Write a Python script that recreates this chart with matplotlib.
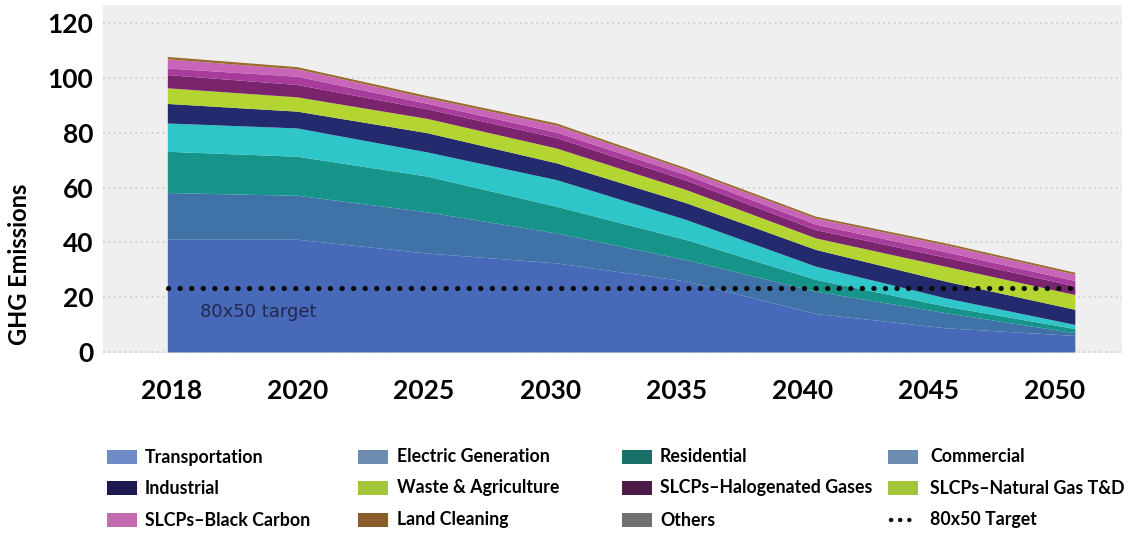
import matplotlib
matplotlib.use("Agg")
import matplotlib.pyplot as plt
from matplotlib.patches import Rectangle
from matplotlib.lines import Line2D
import numpy as np

plt.rcParams['font.family'] = ['Lato', 'DejaVu Sans']

years = ["2018", "2020", "2025", "2030", "2035", "2040", "2045", "2050"]

# layer thickness per year, bottom to top
transportation = [41.0, 41.0, 36.0, 32.4, 25.8, 14.0, 8.8, 6.0]
electric_gen   = [17.0, 16.0, 15.0, 10.9, 7.8, 8.1, 5.5, 1.0]
residential    = [15.0, 14.2, 13.0, 9.7, 7.3, 4.3, 2.4, 1.5]
commercial     = [10.3, 10.3, 8.8, 9.7, 7.3, 4.8, 3.0, 1.5]
industrial     = [7.1, 6.1, 7.0, 6.1, 6.1, 6.1, 6.1, 5.5]
waste_agri     = [5.7, 5.2, 5.2, 5.4, 4.8, 4.2, 5.4, 5.4]
halogenated    = [4.8, 4.5, 3.5, 3.8, 3.4, 3.0, 3.3, 3.1]
black_carbon   = [2.4, 3.0, 2.0, 2.0, 2.0, 2.0, 2.0, 2.0]
natural_gas    = [3.3, 2.7, 2.0, 2.5, 1.8, 2.2, 2.5, 2.3]
land_cleaning  = [0.9, 0.8, 0.8, 0.8, 0.7, 0.7, 0.7, 0.7]

target = 23.6

layers = [transportation, electric_gen, residential, commercial, industrial,
          waste_agri, halogenated, black_carbon, natural_gas, land_cleaning]
layer_colors = ['#4868b8', '#3f73a8', '#16948a', '#2ec6c8', '#232a6e',
                '#b4d432', '#7a246e', '#a83c9c', '#c865b8', '#9a6b2e']

# legend entries as laid out in the picture (row by row)
legend_rows = [
    [("Transportation", '#6f8cc8'), ("Electric Generation", '#6d8db0'),
     ("Residential", '#197068'), ("Commercial", '#6d8db0')],
    [("Industrial", '#1c1850'), ("Waste & Agriculture", '#a4c43a'),
     ("SLCPs\u2013Halogenated Gases", '#4e1a4a'), ("SLCPs\u2013Natural Gas T&D", '#a4c43a')],
    [("SLCPs\u2013Black Carbon", '#c46bb0'), ("Land Cleaning", '#8a5e2a'),
     ("Others", '#707070'), ("80x50 Target", None)],
]

W, H = 1134, 533
fig = plt.figure(figsize=(W / 100, H / 100), dpi=100)
ax = fig.add_axes([103 / W, 1 - 353 / H, (1122 - 103) / W, (353 - 5) / H])
ax.set_facecolor('#efefef')

x = np.arange(len(years))
ax.stackplot(x, *layers, colors=layer_colors, linewidth=0, zorder=2)

# target line
ax.plot([x[0], x[-1]], [target, target], color='#0a0a0a', lw=3.7,
        linestyle=(0, (0.05, 2.2)), dash_capstyle='round', zorder=3)
ax.text(0.25, 14.7, "80x50 target", family='DejaVu Sans', fontsize=13,
        color='#232850', va='center', ha='left', zorder=4)

ax.set_xlim(-0.50, 7.36)
ax.set_ylim(-0.2, 126.4)
ax.set_yticks(range(0, 121, 20))
ax.yaxis.grid(True, color='#cfcfcf', linestyle=(0, (1, 2)), lw=1.3, zorder=0)
ax.set_axisbelow(True)
ax.set_xticks(np.linspace(0.03, 6.84, len(years)))
ax.set_xticklabels(years)
ax.tick_params(length=0, labelsize=19)
ax.tick_params(axis='x', pad=19)
ax.tick_params(axis='y', pad=7)
for lab in ax.get_xticklabels() + ax.get_yticklabels():
    lab.set_fontweight('bold')
for s in ax.spines.values():
    s.set_visible(False)

fig.text(20 / W, 1 - 264 / H, "GHG Emissions", rotation=90, fontsize=17,
         fontweight='bold', ha='center', va='center')

# legend, placed by hand
col_patch_x = [107, 358, 622, 888]
col_text_x = [145, 397, 660, 930]
row_y = [457, 488, 520]
for r, row in enumerate(legend_rows):
    for c, (name, col) in enumerate(row):
        yc = 1 - row_y[r] / H
        if col is None:
            fig.add_artist(Line2D([(col_patch_x[c] + 3) / W, (col_patch_x[c] + 28) / W], [yc, yc],
                                  color='#111111', lw=3.2, linestyle=(0, (0.05, 2.0)),
                                  dash_capstyle='round'))
        else:
            fig.add_artist(Rectangle((col_patch_x[c] / W, yc - 7 / H), 30 / W, 14 / H,
                                     facecolor=col, edgecolor='none'))
        fig.text(col_text_x[c] / W, yc, name, fontsize=12.8, fontweight='bold',
                 ha='left', va='center')

fig.savefig("out.png", dpi=100)
